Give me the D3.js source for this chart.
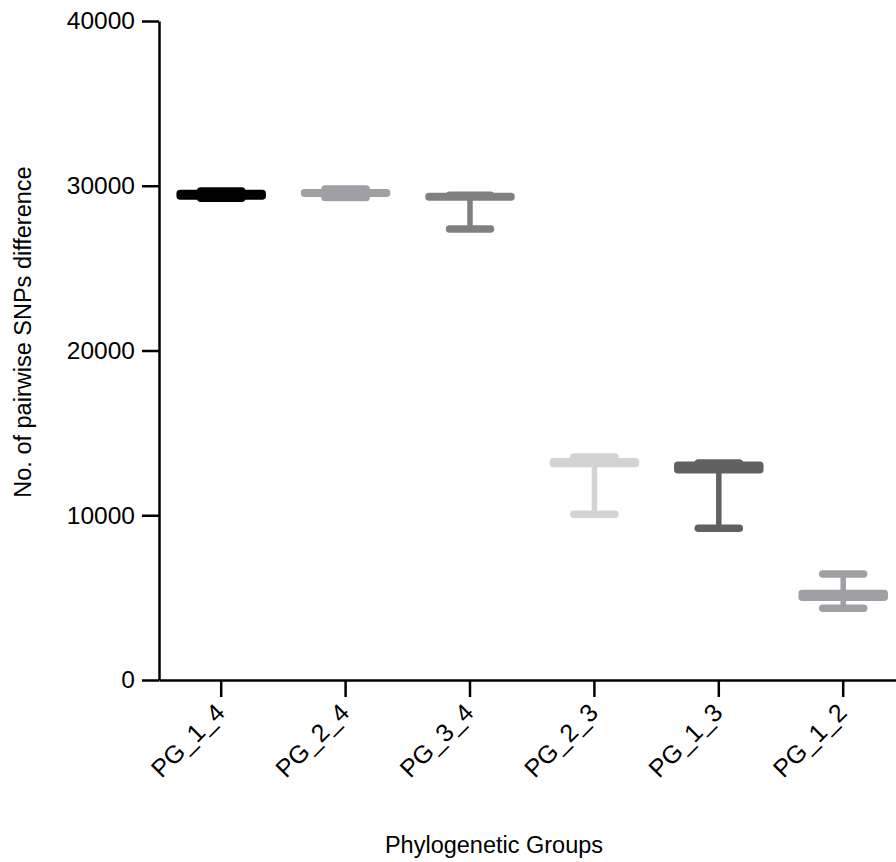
<!DOCTYPE html>
<html>
<head>
<meta charset="utf-8">
<script src="https://cdn.jsdelivr.net/npm/d3@7"></script>
<style>
  html, body { margin: 0; padding: 0; background: #fff; }
  svg { display: block; font-family: "Liberation Sans", Arial, sans-serif; }
</style>
</head>
<body>
<svg id="chart" width="896" height="862"></svg>
<script>
// Pairwise SNP differences between phylogenetic groups (box and whiskers)
const categories = ["PG_1_4", "PG_2_4", "PG_3_4", "PG_2_3", "PG_1_3", "PG_1_2"];
const minValues    = [29240, 29290, 27375, 10057, 9208, 4350];
const q1Values     = [29380, 29540, 29320, 13140, 12760, 5030];
const medianValues = [29440, 29560, 29330, 13190, 12900, 5140];
const q3Values     = [29530, 29580, 29340, 13240, 13040, 5250];
const maxValues    = [29680, 29800, 29420, 13535, 13170, 6434];
const groupColors  = ["#000000", "#a0a0a4", "#808080", "#d3d3d3", "#616161", "#a0a0a4"];
const yTicks = [0, 10000, 20000, 30000, 40000];

const groups = categories.map((c, i) => ({
  name: c,
  min: minValues[i], q1: q1Values[i], median: medianValues[i],
  q3: q3Values[i], max: maxValues[i], color: groupColors[i]
}));

const svg = d3.select("#chart");

const x = d3.scaleBand().domain(categories).range([159, 905.4]).padding(0);
const y = d3.scaleLinear().domain([0, 40000]).range([680, 21]);

const fontSize = 23.5;

// Y axis
const yAxis = svg.append("g")
  .attr("transform", "translate(159,0)")
  .call(d3.axisLeft(y).tickValues(yTicks).tickFormat(d3.format("d")).tickSize(17).tickSizeOuter(0).tickPadding(7));

// X axis
const xAxis = svg.append("g")
  .attr("transform", "translate(0,680)")
  .call(d3.axisBottom(x).tickSize(17).tickSizeOuter(0));

[yAxis, xAxis].forEach(g => {
  g.selectAll("path.domain").attr("stroke", "#000").attr("stroke-width", 2.5);
  g.selectAll(".tick line").attr("stroke", "#000").attr("stroke-width", 2.5);
  g.selectAll(".tick text").attr("fill", "#000")
    .style("font-family", "'Liberation Sans', Arial, sans-serif");
});

yAxis.selectAll(".tick text").style("font-size", "24.5px");

xAxis.selectAll(".tick text")
  .style("font-size", "25px")
  .attr("text-anchor", "end")
  .attr("dy", "0.35em")
  .attr("transform", "translate(-1,28) rotate(-45)")
  .attr("x", 0).attr("y", 0);

// Boxes, whiskers and caps
const boxHalf = 41;
const capHalf = 20.5;
const lineW = 7.5;

const g = svg.append("g");
groups.forEach(d => {
  const cx = x(d.name) + x.bandwidth() / 2;
  const grp = g.append("g");
  // whiskers
  grp.append("line")
    .attr("x1", cx).attr("x2", cx)
    .attr("y1", y(d.min)).attr("y2", y(d.max))
    .attr("stroke", d.color).attr("stroke-width", 5.5);
  // caps
  [d.min, d.max].forEach(v => {
    grp.append("line")
      .attr("x1", cx - capHalf).attr("x2", cx + capHalf)
      .attr("y1", y(v)).attr("y2", y(v))
      .attr("stroke", d.color).attr("stroke-width", lineW)
      .attr("stroke-linecap", "round");
  });
  // box (q1..q3)
  grp.append("rect")
    .attr("x", cx - boxHalf).attr("width", boxHalf * 2)
    .attr("y", y(d.q3)).attr("height", Math.max(0.01, y(d.q1) - y(d.q3)))
    .attr("fill", d.color).attr("stroke", d.color)
    .attr("stroke-width", lineW).attr("stroke-linejoin", "round");
  // median
  grp.append("line")
    .attr("x1", cx - boxHalf).attr("x2", cx + boxHalf)
    .attr("y1", y(d.median)).attr("y2", y(d.median))
    .attr("stroke", d.color).attr("stroke-width", 2);
});

// Axis titles
svg.append("text")
  .attr("transform", "translate(31,332) rotate(-90)")
  .attr("text-anchor", "middle")
  .style("font-size", fontSize + "px")
  .attr("fill", "#000")
  .text("No. of pairwise SNPs difference");

svg.append("text")
  .attr("x", 494).attr("y", 853)
  .attr("text-anchor", "middle")
  .style("font-size", fontSize + "px")
  .attr("fill", "#000")
  .text("Phylogenetic Groups");
</script>
</body>
</html>
